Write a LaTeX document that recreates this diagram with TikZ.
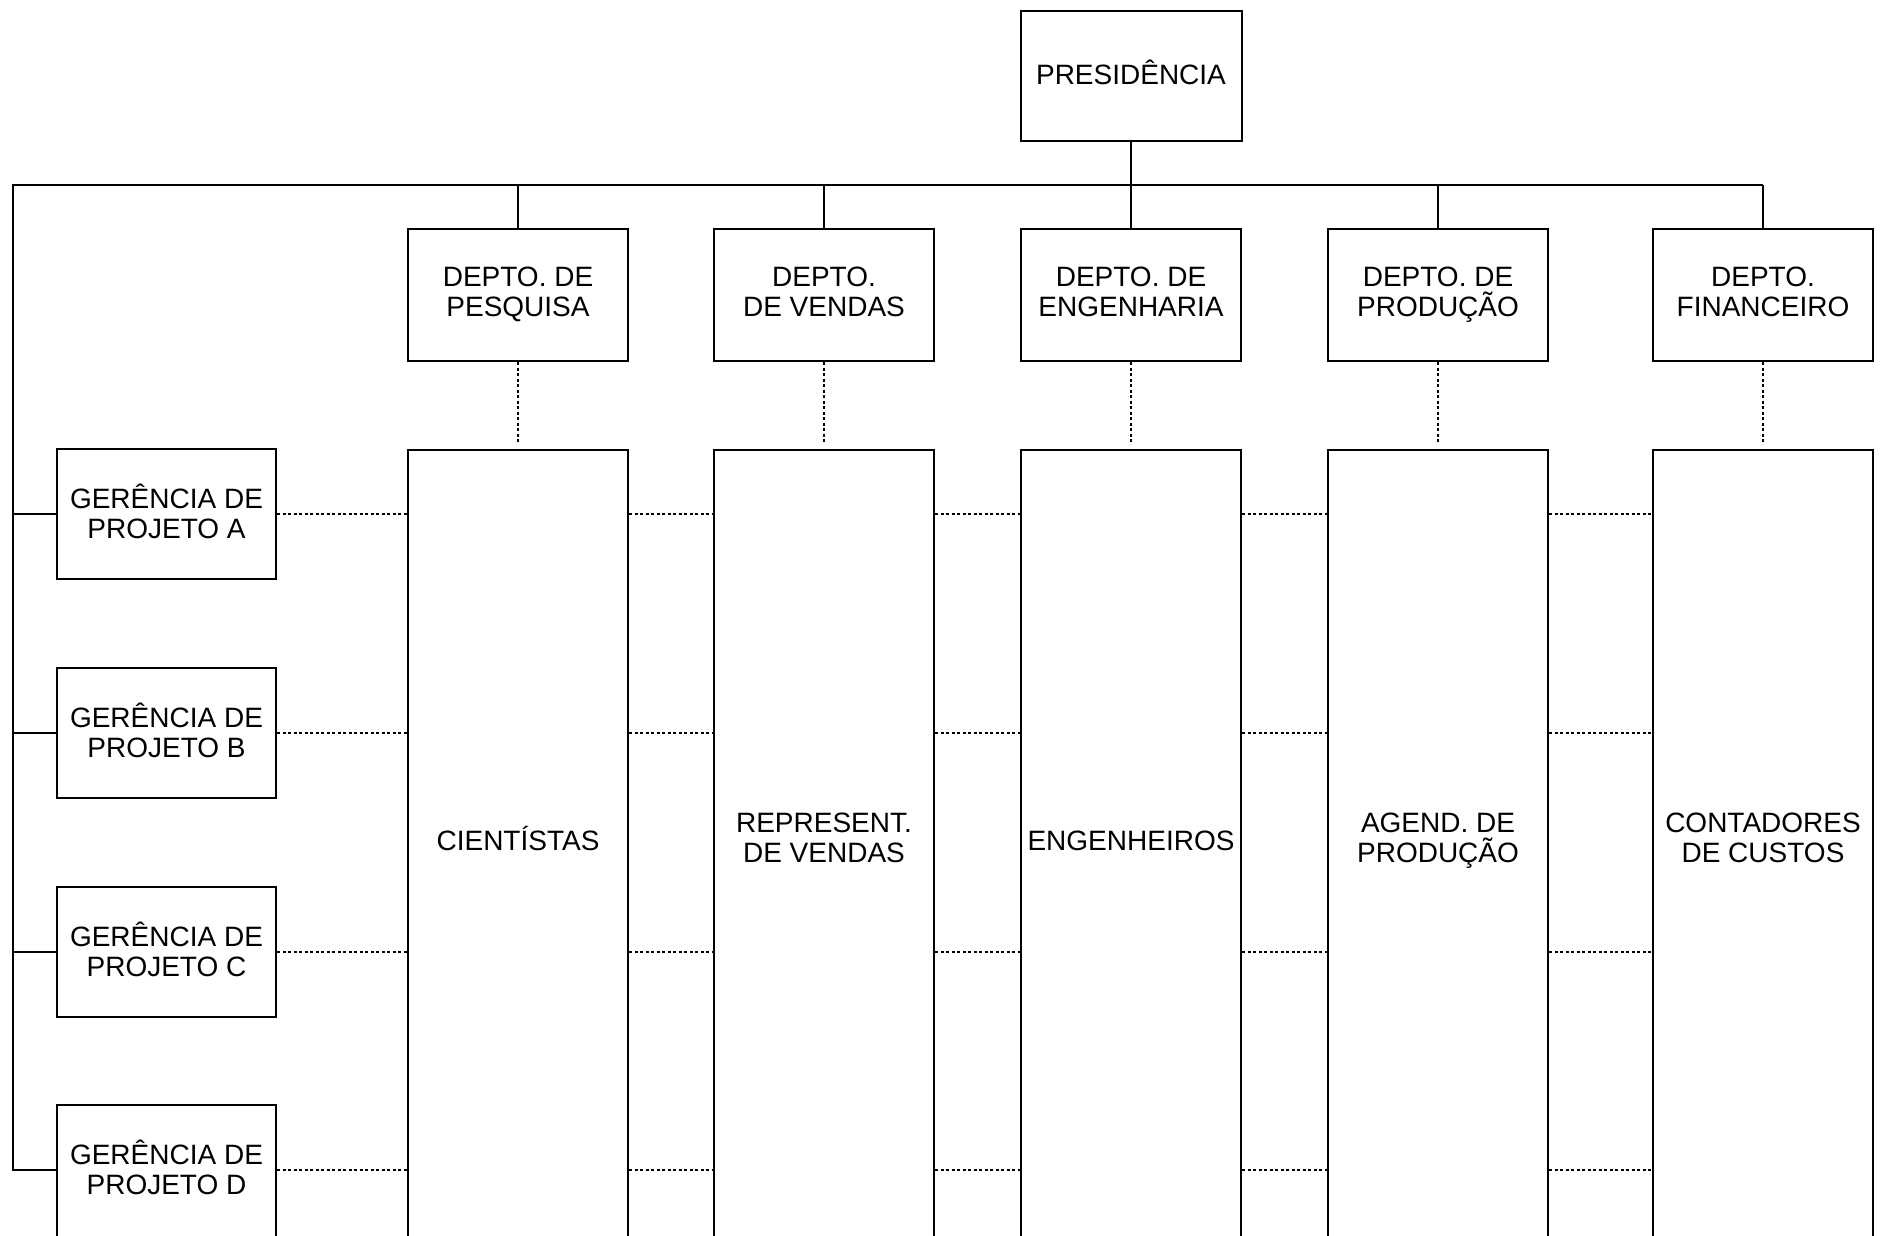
\documentclass[tikz,border=0pt]{standalone}
\usepackage{fontspec}
\setmainfont{Liberation Sans}
\begin{document}
\begin{tikzpicture}[x=1pt,y=-1pt,
  box/.style={draw, line width=2pt, inner sep=0pt, align=center,
    font=\fontsize{28}{30}\selectfont,
    execute at begin node=\vphantom{ÊÇ},
    execute at end node=\vphantom{ÊÇ}},
  topbox/.style={box, minimum width=221, minimum height=130},
  deptbox/.style={box, minimum width=220, minimum height=132},
  mgrbox/.style={box, minimum width=219, minimum height=130},
  colbox/.style={box, minimum width=220, minimum height=900, anchor=north},
  lbl/.style={inner sep=0pt, align=center, font=\fontsize{28}{30}\selectfont,
    execute at begin node=\vphantom{ÊÇ},
    execute at end node=\vphantom{ÊÇ}},
  link/.style={line width=2pt},
  dotline/.style={line width=1.6pt, dash pattern=on 3pt off 2.5pt}]
\useasboundingbox (0,0) rectangle (1898,1235);
\clip (0,0) rectangle (1898,1235);
\fill[white] (0,0) rectangle (1898,1235);

% presidency
\node[topbox] (pres) at (1131,75.5) {PRESIDÊNCIA};

% departments
\node[deptbox] (pes) at (518,295) {DEPTO. DE\\PESQUISA};
\node[deptbox] (ven) at (824,295) {DEPTO.\\DE VENDAS};
\node[deptbox] (eng) at (1131,295) {DEPTO. DE\\ENGENHARIA};
\node[deptbox] (pro) at (1438,295) {DEPTO. DE\\PRODUÇÃO};
\node[deptbox] (fin) at (1763,295) {DEPTO.\\FINANCEIRO};

% staff columns
\node[colbox] (sci) at (518,449) {};
\node[colbox] (rep) at (824,449) {};
\node[colbox] (egr) at (1131,449) {};
\node[colbox] (agd) at (1438,449) {};
\node[colbox] (cnt) at (1763,449) {};
\node[lbl] (tsci) at (518,841) {CIENTÍSTAS};
\node[lbl] (trep) at (824,841) {REPRESENT.\\DE VENDAS};
\node[lbl] (tegr) at (1131,841) {ENGENHEIROS};
\node[lbl] (tagd) at (1438,841) {AGEND. DE\\PRODUÇÃO};
\node[lbl] (tcnt) at (1763,841) {CONTADORES\\DE CUSTOS};

% project managers (the last one runs past the lower edge)
\node[mgrbox] (gA) at (166.5,514) {GERÊNCIA DE\\PROJETO A};
\node[mgrbox] (gB) at (166.5,733) {GERÊNCIA DE\\PROJETO B};
\node[mgrbox] (gC) at (166.5,952) {GERÊNCIA DE\\PROJETO C};
\node[mgrbox, minimum height=140] (gD) at (166.5,1175) {};
\node[lbl] (tgD) at (166.5,1170) {GERÊNCIA DE\\PROJETO D};

% main bus
\coordinate (busL) at (13,185);
\coordinate (busR) at (fin.north |- busL);
\coordinate (gDin) at (gD.west |- tgD);
\draw[link] (pres.south) -- (pres.south |- busL);
\draw[link] (busR) -- (busL) |- (gDin);
\foreach \d in {pes,ven,eng,pro,fin}
  \draw[link] (\d.north) -- (\d.north |- busL);
\foreach \g in {gA,gB,gC}
  \draw[link] (\g.west) -- (\g.west -| busL);

% functional links
\draw[dotline] (pes.south) -- ([yshift=5pt]sci.north);
\draw[dotline] (ven.south) -- ([yshift=5pt]rep.north);
\draw[dotline] (eng.south) -- ([yshift=5pt]egr.north);
\draw[dotline] (pro.south) -- ([yshift=5pt]agd.north);
\draw[dotline] (fin.south) -- ([yshift=5pt]cnt.north);

% project links across the columns
\coordinate (gDout) at (gD.east |- tgD);
\foreach \g in {gA.east,gB.east,gC.east,gDout}{
  \draw[dotline] (\g) -- (\g -| sci.west);
  \draw[dotline] (\g -| sci.east) -- (\g -| rep.west);
  \draw[dotline] (\g -| rep.east) -- (\g -| egr.west);
  \draw[dotline] (\g -| egr.east) -- (\g -| agd.west);
  \draw[dotline] (\g -| agd.east) -- (\g -| cnt.west);
}
\end{tikzpicture}
\end{document}
